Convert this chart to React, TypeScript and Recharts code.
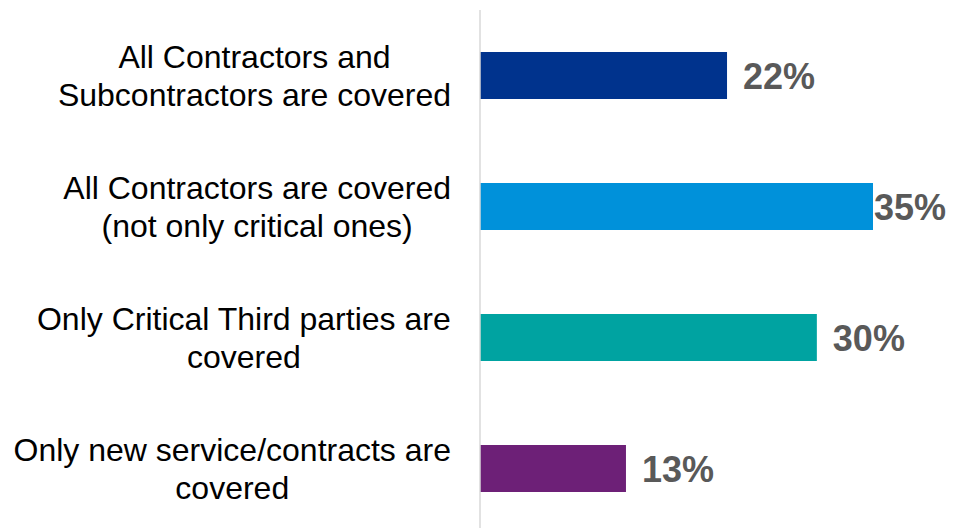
import React from "react";
import { BarChart, Bar, XAxis, YAxis, Cell, LabelList } from "recharts";

const categories = [
  "All Contractors and\nSubcontractors are covered",
  "All Contractors are covered\n(not only critical ones)",
  "Only Critical Third parties are\ncovered",
  "Only new service/contracts are\ncovered",
];
const shares = [22, 35, 30, 13];
const barColors = ["#00338D", "#0091DA", "#00A3A1", "#6D2077"];

const W = 954;
const FONT = "'Liberation Sans', Arial, sans-serif";
const LABEL_SIZE = 32;
const LINE_H = 38;

const data = categories.map((name, i) => ({ name, value: shares[i] }));

let ctx: CanvasRenderingContext2D | null = null;
function textWidth(s: string, font: string) {
  if (!ctx) ctx = document.createElement("canvas").getContext("2d");
  if (!ctx) return s.length * 16;
  ctx.font = font;
  return ctx.measureText(s).width;
}

const CategoryTick = (props: any) => {
  const { x, y, payload } = props;
  const lines = String(payload.value).split("\n");
  const maxW = Math.max(...lines.map((l) => textWidth(l, `${LABEL_SIZE}px ${FONT}`)));
  const cx = x - maxW / 2;
  const first = y - ((lines.length - 1) * LINE_H) / 2 + LABEL_SIZE * 0.36;
  return (
    <text textAnchor="middle" fontFamily={FONT} fontSize={LABEL_SIZE} fill="#000">
      {lines.map((l, i) => (
        <tspan key={i} x={cx} y={first + i * LINE_H}>
          {l}
        </tspan>
      ))}
    </text>
  );
};

const ValueLabel = (props: any) => {
  const { x, y, width, height, value } = props;
  const tx = Math.min(x + width + 16, W - 80);
  return (
    <text
      x={tx}
      y={y + height / 2 + 13}
      fontFamily={FONT}
      fontSize={36}
      fontWeight="bold"
      fill="#595959"
    >
      {value}%
    </text>
  );
};

export default function App() {
  return (
    <div
      style={{
        position: "absolute",
        left: 0,
        top: 0,
        width: W,
        height: 528,
        overflow: "hidden",
        background: "#fff",
      }}
    >
      <BarChart
        width={W}
        height={534}
        data={data}
        layout="vertical"
        margin={{ top: 10, right: 81, bottom: 0, left: 0 }}
      >
        <XAxis type="number" hide domain={[0, 35]} />
        <YAxis
          type="category"
          dataKey="name"
          width={480}
          axisLine={{ stroke: "#d9d9d9", strokeWidth: 1.5 }}
          tickLine={false}
          tickSize={0}
          tickMargin={29}
          tick={<CategoryTick />}
          interval={0}
        />
        <Bar dataKey="value" barSize={47} isAnimationActive={false}>
          {data.map((_, i) => (
            <Cell key={i} fill={barColors[i]} />
          ))}
          <LabelList dataKey="value" content={<ValueLabel />} />
        </Bar>
      </BarChart>
    </div>
  );
}
